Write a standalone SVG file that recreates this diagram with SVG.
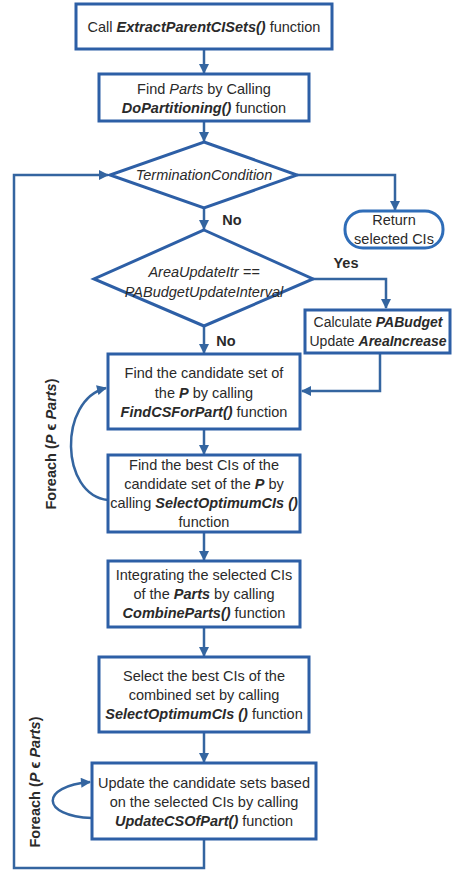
<svg xmlns="http://www.w3.org/2000/svg" width="452" height="883" viewBox="0 0 452 883">
<style>
.box{fill:#fff;stroke:#2d5fa6;stroke-width:3}
.term{fill:#fff;stroke:#2f6db8;stroke-width:3}
.ln{fill:none;stroke:#3465a0;stroke-width:2.5}
text{font-family:"Liberation Sans",Arial,sans-serif;font-size:14.5px;fill:#2a2a2a;text-anchor:middle}
.bi{font-weight:bold;font-style:italic}
.i{font-style:italic}
.b{font-weight:bold}
.sm{font-size:14px}
</style>
<defs>
<marker id="ah" viewBox="0 0 10 10" refX="9" refY="5" markerWidth="4.4" markerHeight="4" orient="auto" markerUnits="strokeWidth">
<path d="M0,0 L10,5 L0,10 Z" fill="#3465a0"/>
</marker>
</defs>
<rect width="452" height="883" fill="#fff"/>
<g id="connectors">
<line class="ln" x1="204" y1="49" x2="204" y2="73" marker-end="url(#ah)"/>
<line class="ln" x1="204" y1="121" x2="204" y2="141" marker-end="url(#ah)"/>
<polyline class="ln" points="297,175 395,175 395,210" marker-end="url(#ah)"/>
<line class="ln" x1="204" y1="208" x2="204" y2="229" marker-end="url(#ah)"/>
<polyline class="ln" points="313,279 386,279 386,308" marker-end="url(#ah)"/>
<line class="ln" x1="204" y1="326" x2="204" y2="353" marker-end="url(#ah)"/>
<polyline class="ln" points="380,353 380,391 302,391" marker-end="url(#ah)"/>
<line class="ln" x1="204" y1="429" x2="204" y2="454" marker-end="url(#ah)"/>
<path class="ln" d="M108,500 C60,495 58,400 106,388" marker-end="url(#ah)"/>
<line class="ln" x1="204" y1="532" x2="204" y2="560" marker-end="url(#ah)"/>
<line class="ln" x1="204" y1="627" x2="204" y2="656" marker-end="url(#ah)"/>
<line class="ln" x1="204" y1="732" x2="204" y2="762" marker-end="url(#ah)"/>
<path class="ln" d="M92,818 C40,816 40,786 90,782" marker-end="url(#ah)"/>
<polyline class="ln" points="204,839 204,868 14,868 14,175 108,175" marker-end="url(#ah)"/>
</g>
<g id="n1">
<rect class="box" x="76" y="4" width="256" height="45"/>
<text x="204" y="32">Call <tspan class="bi">ExtractParentCISets()</tspan> function</text>
</g>
<g id="n2">
<rect class="box" x="99" y="74" width="210" height="47"/>
<text x="204" y="94">Find <tspan class="i">Parts</tspan> by Calling</text>
<text x="204" y="113"><tspan class="bi">DoPartitioning()</tspan> function</text>
</g>
<g id="d1">
<polygon class="box" points="204,142 297,175 204,208 110,175"/>
<text x="204" y="180" class="i">TerminationCondition</text>
</g>
<g id="t1">
<rect class="term" x="345" y="211" width="98" height="37" rx="18"/>
<text x="394" y="225">Return</text>
<text x="394" y="244">selected CIs</text>
</g>
<text x="232" y="225" class="b">No</text>
<g id="d2">
<polygon class="box" points="204,230 313,279 204,326 94,279"/>
<text x="204" y="277" class="i">AreaUpdateItr ==</text>
<text x="204" y="297" class="i">PABudgetUpdateInterval</text>
</g>
<text x="346" y="268" class="b">Yes</text>
<text x="226" y="346" class="b">No</text>
<g id="n3">
<rect class="box" x="305" y="310" width="145" height="43"/>
<text x="378" y="327" class="sm">Calculate <tspan class="bi">PABudget</tspan></text>
<text x="378" y="346" class="sm">Update <tspan class="bi">AreaIncrease</tspan></text>
</g>
<g id="n4">
<rect class="box" x="108" y="354" width="192" height="75"/>
<text x="204" y="378">Find the candidate set of</text>
<text x="204" y="398">the <tspan class="bi">P</tspan> by calling</text>
<text x="204" y="417"><tspan class="bi">FindCSForPart()</tspan> function</text>
</g>
<g id="n5">
<rect class="box" x="108" y="455" width="192" height="77"/>
<text x="204" y="470">Find the best CIs of the</text>
<text x="204" y="489">candidate set of the <tspan class="bi">P</tspan> by</text>
<text x="204" y="508">calling <tspan class="bi">SelectOptimumCIs ()</tspan></text>
<text x="204" y="527">function</text>
</g>
<text class="b" transform="translate(56,444) rotate(-90)">Foreach (<tspan class="bi">P</tspan> ϵ <tspan class="bi">Parts</tspan>)</text>
<g id="n6">
<rect class="box" x="108" y="561" width="192" height="66"/>
<text x="204" y="580">Integrating the selected CIs</text>
<text x="204" y="599">of the <tspan class="bi">Parts</tspan> by calling</text>
<text x="204" y="618"><tspan class="bi">CombineParts()</tspan> function</text>
</g>
<g id="n7">
<rect class="box" x="99" y="657" width="210" height="75"/>
<text x="204" y="681">Select the best CIs of the</text>
<text x="204" y="700">combined  set by calling</text>
<text x="204" y="719"><tspan class="bi">SelectOptimumCIs ()</tspan> function</text>
</g>
<g id="n8">
<rect class="box" x="92" y="763" width="224" height="76"/>
<text x="204" y="788">Update the candidate sets based</text>
<text x="204" y="807">on the selected CIs by calling</text>
<text x="204" y="826"><tspan class="bi">UpdateCSOfPart()</tspan> function</text>
</g>
<text class="b" transform="translate(40,782) rotate(-90)">Foreach (<tspan class="bi">P</tspan> ϵ <tspan class="bi">Parts</tspan>)</text>
</svg>
